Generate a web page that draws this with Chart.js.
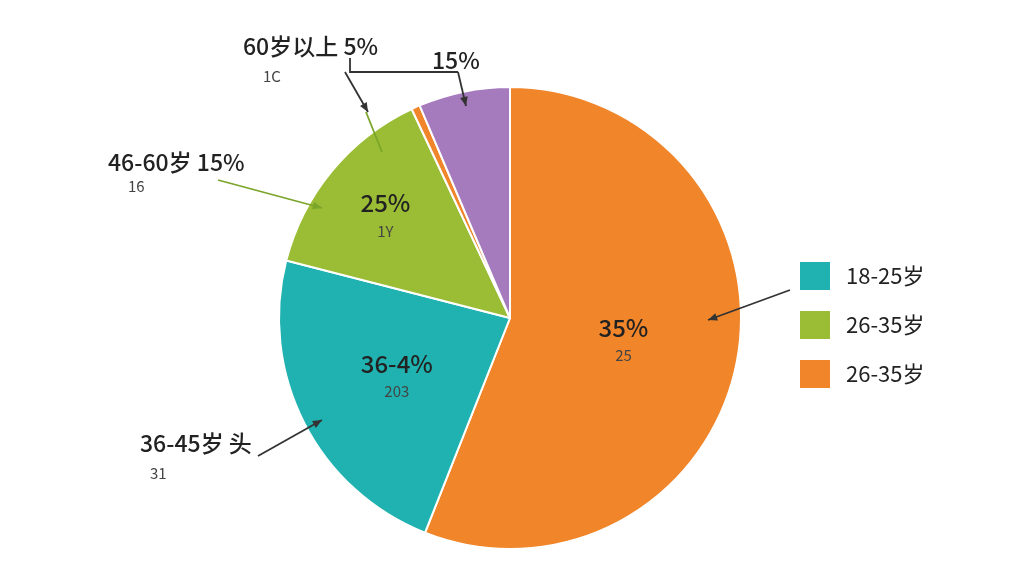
<!DOCTYPE html>
<html><head><meta charset="utf-8">
<script src="https://cdn.jsdelivr.net/npm/chart.js@4/dist/chart.umd.min.js"></script>
<style>html,body{margin:0;background:#fff}#w{width:1024px;height:576px}</style>
</head><body><div id="w"><canvas id="c"></canvas></div>
<script>
const sliceNames=['26-35岁','36-45岁','46-60岁','60岁以上','其他'];
const sliceValues=[56,23,14,0.6,6.4];
const sliceColors=['#F0852A','#20B2B0','#9BBD35','#F0852A','#A57BBE'];
const innerPct=['35%','36-4%','25%',null,null];
const innerSub=['25','203','1Y',null,null];
const innerFrac=[0.5,0.55,0.7,0,0];
const legendLabels=['18-25岁','26-35岁','26-35岁'];
const legendColors=['#20B2B0','#9BBD35','#F0852A'];
const F='"Noto Sans CJK SC","Noto Sans",sans-serif';
function arrow(ctx,x1,y1,x2,y2,col){ctx.strokeStyle=col;ctx.fillStyle=col;ctx.lineWidth=1.8;ctx.beginPath();ctx.moveTo(x1,y1);ctx.lineTo(x2,y2);ctx.stroke();const a=Math.atan2(y2-y1,x2-x1);ctx.beginPath();ctx.moveTo(x2,y2);ctx.lineTo(x2-10*Math.cos(a-0.4),y2-10*Math.sin(a-0.4));ctx.lineTo(x2-10*Math.cos(a+0.4),y2-10*Math.sin(a+0.4));ctx.closePath();ctx.fill();}
const deco={id:'deco',afterDraw(ch){const ctx=ch.ctx;const arcs=ch.getDatasetMeta(0).data;ctx.save();ctx.textAlign='center';ctx.textBaseline='middle';
arcs.forEach((a,i)=>{if(!innerPct[i])return;const m=(a.startAngle+a.endAngle)/2;const r=a.outerRadius*innerFrac[i];const x=a.x+Math.cos(m)*r,y=a.y+Math.sin(m)*r;ctx.fillStyle='#222';ctx.font='500 24px '+F;ctx.fillText(innerPct[i],x,y-12);ctx.font='15px '+F;ctx.fillStyle='#444';ctx.fillText(innerSub[i],x,y+16);});
ctx.fillStyle='#222';ctx.font='500 23px '+F;ctx.textAlign='left';
ctx.fillText('60岁以上 5%',243,46);ctx.fillText('15%',432,60);ctx.fillText('46-60岁 15%',108,162);ctx.fillText('36-45岁 头',140,443);
ctx.font='15px '+F;ctx.fillStyle='#444';ctx.fillText('1C',263,76);ctx.fillText('16',128,186);ctx.fillText('31',150,473);
ctx.strokeStyle='#333';ctx.lineWidth=1.8;ctx.beginPath();ctx.moveTo(350,58);ctx.lineTo(350,72);ctx.lineTo(458,72);ctx.stroke();
arrow(ctx,458,72,466,106,'#333');arrow(ctx,345,72,368,112,'#333');
ctx.strokeStyle='#7aa52a';ctx.beginPath();ctx.moveTo(366,112);ctx.lineTo(382,152);ctx.stroke();
arrow(ctx,218,180,322,208,'#7aa52a');arrow(ctx,258,456,322,420,'#333');arrow(ctx,790,290,708,320,'#333');
legendLabels.forEach((t,i)=>{const y=276+i*49;ctx.fillStyle=legendColors[i];ctx.fillRect(800,y-14,30,28);ctx.fillStyle='#222';ctx.font='22px '+F;ctx.fillText(t,846,y);});
ctx.restore();}};
new Chart(document.getElementById('c'),{type:'pie',data:{labels:sliceNames,datasets:[{data:sliceValues,backgroundColor:sliceColors,borderColor:'#fff',borderWidth:2}]},
options:{responsive:true,maintainAspectRatio:false,animation:false,layout:{padding:{top:86,bottom:26,left:0,right:4}},plugins:{legend:{display:false},tooltip:{enabled:false}}},plugins:[deco]});
</script></body></html>
